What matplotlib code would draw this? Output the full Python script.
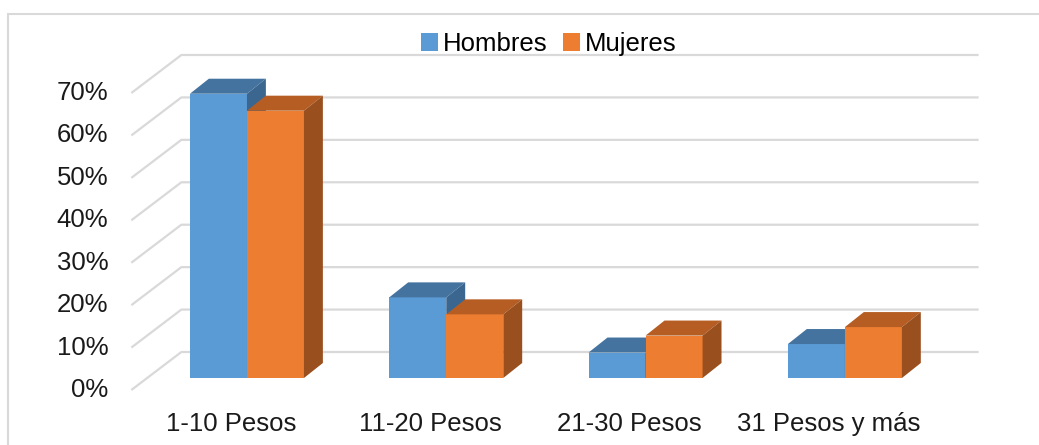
import matplotlib
matplotlib.use('Agg')
import matplotlib.pyplot as plt
from matplotlib.patches import Polygon, Patch, Rectangle

categories = ['1-10 Pesos', '11-20 Pesos', '21-30 Pesos', '31 Pesos y más']
hombres = [67, 19, 6, 8]
mujeres = [63, 15, 10, 12]
yticks = [0, 10, 20, 30, 40, 50, 60, 70]
yticklabels = ['0%', '10%', '20%', '30%', '40%', '50%', '60%', '70%']

series = [('Hombres', hombres, '#5B9BD5', '#44739F', '#3B668F'),
          ('Mujeres', mujeres, '#ED7D31', '#B55D22', '#9A4F1E')]

plt.rcParams['font.family'] = ['Liberation Sans', 'DejaVu Sans']

# oblique "3D" geometry in data units (x: category, y: percent)
wall_dx, wall_dy = 0.251, 8.96      # floor depth, front plane -> back wall
bar_x0, bar_y0 = 0.08, 2.83         # bar front face offset from front plane
bar_dx, bar_dy = 0.095, 3.54        # bar depth
width = 0.286
grid_color = '#D9D9D9'

fig = plt.figure(figsize=(10.39, 4.45), dpi=100)
ax = fig.add_axes([0, 0, 1, 1])
ax.set_xlim(-1.159, 4.054)
ax.set_ylim(-12.96, 91.92)
ax.axis('off')

# border of the chart area
fig.patches.append(Rectangle((8 / 1039, -0.1), 1.2, 0.1 + 1 - 14 / 445, transform=fig.transFigure,
                             fill=False, edgecolor=grid_color, linewidth=1.5, zorder=0))

# gridlines: left wall diagonals + back wall
x_left, x_right = -0.5, 3.5
for v in yticks:
    ax.plot([x_left, x_left + wall_dx, x_right + wall_dx], [v, v + wall_dy, v + wall_dy],
            color=grid_color, linewidth=1.6, zorder=1, solid_capstyle='butt')

for v, lab in zip(yticks, yticklabels):
    ax.text(-0.615, v, lab, ha='right', va='center', fontsize=18.5, color='#1a1a1a')

for i, cat in enumerate(categories):
    ax.text(i, -8.1, cat, ha='center', va='center', fontsize=18.5, color='#1a1a1a')

for i in range(len(categories)):
    for k, (name, vals, front, top, side) in enumerate(series):
        left = i - width + k * width + bar_x0
        right = left + width
        h = vals[i] + bar_y0
        ax.bar(left, vals[i], width=width, bottom=bar_y0, align='edge',
               color=front, linewidth=0, zorder=3 + k)
        ax.add_patch(Polygon([(left, h), (right, h), (right + bar_dx, h + bar_dy), (left + bar_dx, h + bar_dy)],
                             closed=True, facecolor=top, linewidth=0, zorder=3 + k))
        ax.add_patch(Polygon([(right, bar_y0), (right + bar_dx, bar_y0 + bar_dy),
                              (right + bar_dx, h + bar_dy), (right, h)],
                             closed=True, facecolor=side, linewidth=0, zorder=3 + k))

handles = [Patch(facecolor=s[2], label=s[0]) for s in series]
fig.legend(handles=handles, loc='center', bbox_to_anchor=(549 / 1039, 1 - 44 / 445), ncol=2,
           frameon=False, fontsize=18.5, handlelength=0.65, handleheight=0.65,
           handletextpad=0.2, columnspacing=0.6, borderpad=0)

fig.savefig('out.png', dpi=100)
